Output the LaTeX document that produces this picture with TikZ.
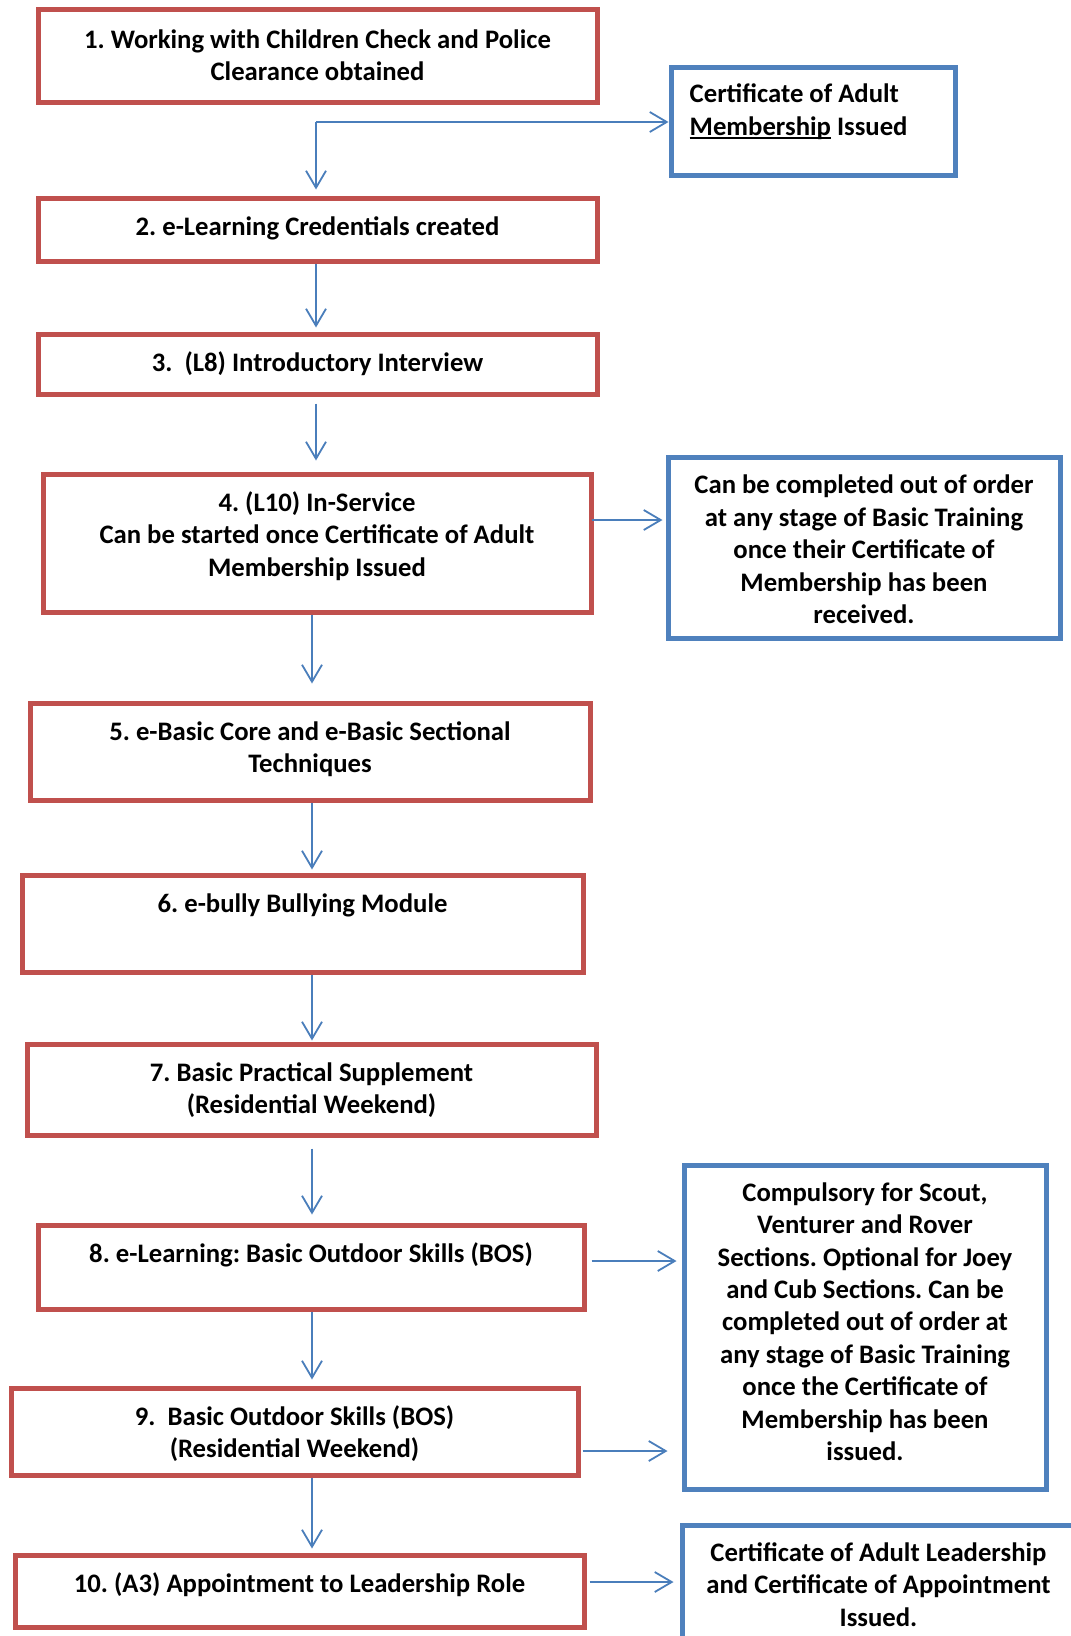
\documentclass[tikz,border=0pt]{standalone}
\usepackage{fontspec}
\setmainfont{Carlito}
\usetikzlibrary{arrows.meta,calc}
\definecolor{boxred}{RGB}{192,80,77}
\definecolor{boxblue}{RGB}{79,129,189}
\definecolor{arrblue}{RGB}{74,126,187}
\newcommand\myul[1]{\setbox0\hbox{#1}\rlap{\rule[-3.5pt]{\wd0}{2pt}}#1}
\newcommand\bodyfont{\fontsize{26.7}{32.4}\selectfont\bfseries\frenchspacing}
\begin{document}
\begin{tikzpicture}[x=1pt,y=-1pt,
  redbox/.style={draw=boxred, line width=5pt, fill=white, inner sep=0pt},
  bluebox/.style={draw=boxblue, line width=5pt, fill=white, inner sep=0pt},
  txt/.style={anchor=north, inner sep=0pt, align=center, font=\bodyfont},
  arr/.style={draw=arrblue, line width=1.8pt, -{Straight Barb[length=17pt,width=20pt]}}]
\useasboundingbox (0,0) rectangle (1071,1636);
\fill[white] (0,0) rectangle (1071,1636);

% boxes
\node[redbox, minimum width=559pt, minimum height=93pt] (b1) at (317.5,56) {};
\node[bluebox, minimum width=284pt, minimum height=108pt] (cert) at (813,121) {};
\node[redbox, minimum width=559pt, minimum height=63pt] (b2) at (317.5,229.5) {};
\node[redbox, minimum width=559pt, minimum height=60pt] (b3) at (317.5,364) {};
\node[redbox, minimum width=548pt, minimum height=138pt] (b4) at (317,543) {};
\node[bluebox, minimum width=392pt, minimum height=181pt] (b4b) at (864,547.5) {};
\node[redbox, minimum width=560pt, minimum height=97pt] (b5) at (310,751.5) {};
\node[redbox, minimum width=561pt, minimum height=97pt] (b6) at (302.5,923.5) {};
\node[redbox, minimum width=569pt, minimum height=91pt] (b7) at (311.5,1089.5) {};
\node[redbox, minimum width=546pt, minimum height=84pt] (b8) at (311,1267) {};
\node[bluebox, minimum width=362pt, minimum height=324pt] (b8b) at (865,1327) {};
\node[redbox, minimum width=567pt, minimum height=87pt] (b9) at (294.5,1431.5) {};
\node[redbox, minimum width=569pt, minimum height=72pt] (b10) at (299.5,1591) {};
\node[bluebox, minimum width=393pt, minimum height=125pt] (b10b) at (878.5,1587.5) {};

% texts
\node[txt] (t1) at ($(b1.north)+(0,18.5)$) {\strut 1. Working with Children Check and Police\\Clearance obtained};
\node[txt, anchor=north west, align=left] (tc) at ($(cert.north west)+(21,15.5)$) {\strut Certificate of Adult\\\myul{Membership} Issued};
\node[txt] (t2) at ($(b2.north)+(0,17)$) {\strut 2. e-Learning Credentials created};
\node[txt] (t3) at ($(b3.north)+(0,17)$) {\strut 3.\ \ (L8) Introductory Interview};
\node[txt] (t4) at ($(b4.north)+(0,17)$) {\strut 4. (L10) In-Service\\Can be started once Certificate of Adult\\Membership Issued};
\node[txt] (t4b) at ($(b4b.north)+(0,16.5)$) {\strut Can be completed out of order\\at any stage of Basic Training\\once their Certificate of\\Membership has been\\received.};
\node[txt] (t5) at ($(b5.north)+(0,17)$) {\strut 5. e-Basic Core and e-Basic Sectional\\Techniques};
\node[txt] (t6) at ($(b6.north)+(0,17)$) {\strut 6. e-bully Bullying Module};
\node[txt] (t7) at ($(b7.north)+(0,17)$) {\strut 7. Basic Practical Supplement\\(Residential Weekend)};
\node[txt] (t8) at ($(b8.north)+(0,17)$) {\strut 8. e-Learning: Basic Outdoor Skills (BOS)};
\node[txt] (t8b) at ($(b8b.north)+(0,16)$) {\strut Compulsory for Scout,\\Venturer and Rover\\Sections. Optional for Joey\\and Cub Sections. Can be\\completed out of order at\\any stage of Basic Training\\once the Certificate of\\Membership has been\\issued.};
\node[txt] (t9) at ($(b9.north)+(0,17)$) {\strut 9.\ \ Basic Outdoor Skills (BOS)\\(Residential Weekend)};
\node[txt] (t10) at ($(b10.north)+(0,17)$) {\strut 10. (A3) Appointment to Leadership Role};
\node[txt] (t10b) at ($(b10b.north)+(0,16)$) {\strut Certificate of Adult Leadership\\and Certificate of Appointment\\Issued.};

% connectors
\coordinate (sp1) at (316,0);
\coordinate (sp2) at (312,0);
\coordinate (J) at (316,122);
\coordinate (h4) at (0,520);
\coordinate (h8) at (0,1261);
\coordinate (h9) at (0,1451);
\coordinate (h10) at (0,1582);

\draw[arr] (J) -- (J -| cert.west);
\draw[arr, shorten >=6pt] (J) -- (b2.north -| J);
\draw[arr, shorten >=4pt] (b2.south -| sp1) -- (b3.north -| sp1);
\draw[arr, shorten <=7pt, shorten >=11pt] (b3.south -| sp1) -- (b4.north -| sp1);
\draw[arr, shorten >=17pt] (b4.south -| sp2) -- (b5.north -| sp2);
\draw[arr, shorten >=3pt] (b5.south -| sp2) -- (b6.north -| sp2);
\draw[arr, shorten >=1pt] (b6.south -| sp2) -- (b7.north -| sp2);
\draw[arr, shorten <=11pt, shorten >=8pt] (b7.south -| sp2) -- (b8.north -| sp2);
\draw[arr, shorten >=6pt] (b8.south -| sp2) -- (b9.north -| sp2);
\draw[arr, shorten >=4pt] (b9.south -| sp2) -- (b10.north -| sp2);

\draw[arr, shorten <=-2pt, shorten >=3pt] (b4.east |- h4) -- (b4b.west |- h4);
\draw[arr, shorten <=5pt, shorten >=5pt] (b8.east |- h8) -- (b8b.west |- h8);
\draw[arr, shorten <=2pt, shorten >=14pt] (b9.east |- h9) -- (b8b.west |- h9);
\draw[arr, shorten <=3pt, shorten >=6pt] (b10.east |- h10) -- (b10b.west |- h10);
\end{tikzpicture}
\end{document}
